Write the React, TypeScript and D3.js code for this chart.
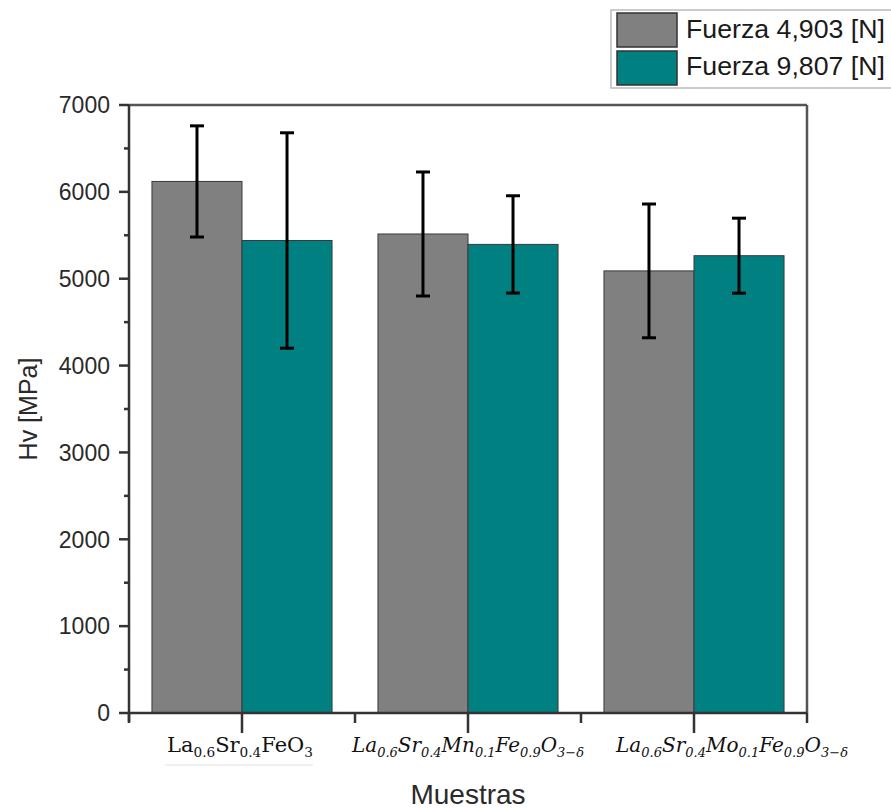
import React from "react";
import * as d3 from "d3";

const samples = ["LSF", "LSMnF", "LSMoF"];
const series = ["Fuerza 4,903 [N]", "Fuerza 9,807 [N]"];
const hvLow = [6120, 5515, 5090];
const hvHigh = [5440, 5395, 5265];
const errLow = [640, 714, 770];
const errHigh = [1240, 560, 432];
const yTicks = [0, 1000, 2000, 3000, 4000, 5000, 6000, 7000];
const yMinorTicks = [500, 1500, 2500, 3500, 4500, 5500, 6500];
// formula parts: [main, subscript]
const labelParts: [string, string][][] = [
  [["La", "0.6"], ["Sr", "0.4"], ["FeO", "3"]],
  [["La", "0.6"], ["Sr", "0.4"], ["Mn", "0.1"], ["Fe", "0.9"], ["O", "3−δ"]],
  [["La", "0.6"], ["Sr", "0.4"], ["Mo", "0.1"], ["Fe", "0.9"], ["O", "3−δ"]],
];
const labelItalic = [false, true, true];
const labelShift = [-2, 0, 38];

const colors = ["#808080", "#008080"];

export default function App() {
  const W = 891, H = 809;
  const left = 129, right = 807, top = 105, bottom = 713;
  const x0 = d3.scaleBand<string>().domain(samples).range([left, right]).paddingInner(0).paddingOuter(0);
  const x1 = d3.scaleBand<string>().domain(series).range([0, x0.bandwidth()]).paddingInner(0).paddingOuter(0.255);
  const y = d3.scaleLinear().domain([0, 7000]).range([bottom, top]);
  const values = [hvLow, hvHigh];
  const errs = [errLow, errHigh];
  const axisColor = "#333";
  const font = "'Liberation Sans', Arial, sans-serif";
  const boundaries = [...samples.map((s) => x0(s)!), right];

  return (
    <svg width={W} height={H} style={{ position: "absolute", left: 0, top: 0, background: "#fff" }}>
      {/* bars */}
      {samples.map((s, i) =>
        series.map((se, j) => {
          const v = values[j][i];
          const bx = x0(s)! + x1(se)!;
          return (
            <rect key={`b${i}${j}`} x={bx} y={y(v)} width={x1.bandwidth()} height={y(0) - y(v)}
              fill={colors[j]} stroke="#3a3a3a" strokeWidth={1} />
          );
        })
      )}
      {/* error bars */}
      {samples.map((s, i) =>
        series.map((se, j) => {
          const v = values[j][i];
          const e = errs[j][i];
          const cx = x0(s)! + x1(se)! + x1.bandwidth() / 2;
          return (
            <g key={`e${i}${j}`} stroke="#000" strokeWidth={3}>
              <line x1={cx} x2={cx} y1={y(v + e)} y2={y(v - e)} />
              <line x1={cx - 7} x2={cx + 7} y1={y(v + e)} y2={y(v + e)} />
              <line x1={cx - 7} x2={cx + 7} y1={y(v - e)} y2={y(v - e)} />
            </g>
          );
        })
      )}
      {/* frame */}
      <line x1={left} x2={right} y1={top} y2={top} stroke="#555" strokeWidth={2.5} />
      <line x1={right} x2={right} y1={top} y2={bottom} stroke="#555" strokeWidth={2.5} />
      <line x1={left} x2={left} y1={top} y2={bottom + 9} stroke={axisColor} strokeWidth={2.5} />
      <line x1={left} x2={right} y1={bottom} y2={bottom} stroke={axisColor} strokeWidth={2.5} />
      {/* y ticks */}
      {yTicks.map((t) => (
        <g key={`yt${t}`}>
          <line x1={left - 10} x2={left} y1={y(t)} y2={y(t)} stroke={axisColor} strokeWidth={2.5} />
          <text x={left - 19} y={y(t)} dy="0.36em" textAnchor="end" fontFamily={font} fontSize={23} fill="#2a2a2a">
            {t}
          </text>
        </g>
      ))}
      {yMinorTicks.map((t) => (
        <line key={`ym${t}`} x1={left - 5} x2={left} y1={y(t)} y2={y(t)} stroke={axisColor} strokeWidth={2.5} />
      ))}
      {/* x ticks */}
      {samples.map((s) => {
        const cx = x0(s)! + x0.bandwidth() / 2;
        return <line key={`xt${s}`} x1={cx} x2={cx} y1={bottom} y2={bottom + 20} stroke={axisColor} strokeWidth={2.5} />;
      })}
      {boundaries.map((bx, i) => (
        <line key={`xm${i}`} x1={bx} x2={bx} y1={bottom} y2={bottom + 10} stroke={axisColor} strokeWidth={2.5} />
      ))}
      {/* x labels */}
      {samples.map((s, i) => {
        const cx = x0(s)! + x0.bandwidth() / 2 + labelShift[i];
        return (
          <text key={`xl${s}`} x={cx} y={752} textAnchor="middle" fontFamily="'DejaVu Serif', 'Liberation Serif', serif"
            fontSize={20} fontStyle={labelItalic[i] ? "italic" : "normal"} fill="#111"
            textLength={i === 0 ? 146 : 232} lengthAdjust="spacingAndGlyphs">
            {labelParts[i].map(([m, sub], k) => (
              <React.Fragment key={k}>
                <tspan dy={k === 0 ? 0 : -5}>{m}</tspan>
                <tspan fontSize={13} dy={5}>{sub}</tspan>
              </React.Fragment>
            ))}
          </text>
        );
      })}
      <line x1={165} x2={313} y1={765} y2={765} stroke="#e2e2e2" strokeWidth={1} />
      {/* axis titles */}
      <text x={(left + right) / 2} y={804} textAnchor="middle" fontFamily={font} fontSize={28} fill="#2a2a2a">
        Muestras
      </text>
      <text transform={`translate(37, ${(top + bottom) / 2}) rotate(-90)`} textAnchor="middle" fontFamily={font}
        fontSize={25} fill="#2a2a2a">
        Hv [MPa]
      </text>
      {/* legend */}
      <rect x={611} y={10} width={290} height={78} fill="#fff" stroke="#bbb" strokeWidth={1.5} />
      {series.map((se, j) => (
        <g key={`lg${j}`}>
          <rect x={617} y={13 + j * 38} width={60} height={34} fill={colors[j]} stroke="#333" strokeWidth={1.5} />
          <text x={686} y={38 + j * 37} fontFamily={font} fontSize={25} fill="#1a1a1a" textLength={199} lengthAdjust="spacingAndGlyphs">
            {se}
          </text>
        </g>
      ))}
    </svg>
  );
}
